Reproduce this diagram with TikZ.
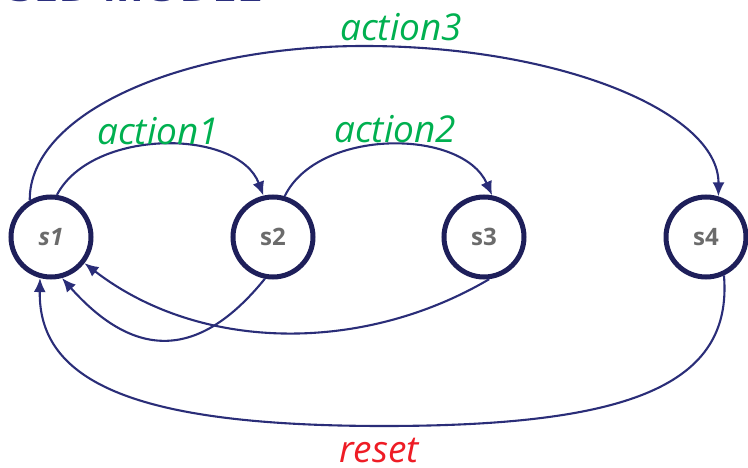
\documentclass[tikz,border=0pt]{standalone}
\usepackage{fontspec}
\setmainfont{Open Sans}
\usetikzlibrary{arrows.meta}
\definecolor{navy}{HTML}{1E1F5A}
\definecolor{edgec}{HTML}{2A2D78}
\definecolor{titlec}{HTML}{2B2F7E}
\definecolor{lblgreen}{HTML}{00B050}
\definecolor{lblred}{HTML}{EE1C25}
\definecolor{stgray}{HTML}{6B6B6B}
\begin{document}
\begin{tikzpicture}[x=1pt,y=-1pt,
  state/.style={circle,draw=navy,line width=5pt,minimum size=80pt,inner sep=0pt,
    font=\fontsize{24}{24}\selectfont\bfseries,text=stgray},
  conn/.style={draw=edgec,line width=2.1pt,-{Latex[length=14pt,width=12pt]}},
  lbl/.style={font=\fontsize{37}{37}\selectfont\itshape,inner sep=0pt}]
\useasboundingbox (0,0) rectangle (748,468);
\node[anchor=base east,inner sep=0pt,font=\fontsize{34}{34}\selectfont\bfseries,text=titlec] (title) at (262,2) {\scalebox{1.3}[1]{SED MODEL}};
\node[state] (s1) at (51,237) {\itshape s1};
\node[state] (s2) at (273,237) {s2};
\node[state] (s3) at (484,237) {s3};
\node[state] (s4) at (706,237) {s4};
% forward actions
\draw[conn] (s1.82) .. controls (92,128) and (238,128) .. (s2.103);
\draw[conn] (s2.74) .. controls (318,128) and (462,128) .. (s3.79);
\draw[conn] (s1.120) .. controls (29,114) and (180,46) .. (364,46)
            .. controls (559,46) and (719,112) .. (s4.73);
% returns
\draw[conn] (s2.259) .. controls (199,360) and (135,360) .. (s1.285);
\draw[conn] (s3.277) .. controls (364,353) and (201,353) .. (s1.322);
\draw[conn] (s4.295) .. controls (733,385) and (630,426) .. (384,426)
            .. controls (140,426) and (38,384) .. (s1.255);
% labels
\node[lbl,text=lblgreen] (l1) at (158,131) {action1};
\node[lbl,text=lblgreen] (l2) at (395,129) {action2};
\node[lbl,text=lblgreen] (l3) at (401,27) {action3};
\node[lbl,text=lblred] (l4) at (379,451) {reset};
\end{tikzpicture}
\end{document}
